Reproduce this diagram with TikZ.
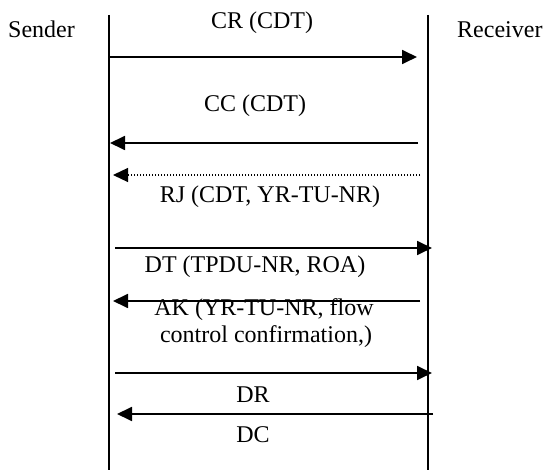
\documentclass[tikz,border=0pt]{standalone}
\usepackage{fontspec}
\setmainfont{Liberation Serif}
\usetikzlibrary{arrows.meta}
\begin{document}
\begin{tikzpicture}[x=1pt,y=-1pt,
  lifeline/.style={line width=1.8pt},
  msg/.style={line width=1.8pt,-{Triangle[length=15pt,width=14pt]}},
  dotmsg/.style={line width=1.2pt,dash pattern=on 1.2pt off 1.8pt,
    -{Triangle[length=15pt,width=14pt]}},
  lbl/.style={anchor=base,inner sep=0pt,font=\fontsize{24}{28}\selectfont}]
\useasboundingbox (0,0) rectangle (547,470);

% lifelines
\coordinate (s0) at (109,15);
\coordinate (s1) at (109,470);
\coordinate (r0) at (428,15);
\coordinate (r1) at (428,470);
\draw[lifeline] (s0) -- (s1);
\draw[lifeline] (r0) -- (r1);

\node[lbl,anchor=base west] (sender) at (8,38) {Sender};
\node[lbl,anchor=base west] (receiver) at (457,38) {Receiver};

% connection request
\coordinate (cr0) at (109,57);
\coordinate (cr1) at (417,57);
\draw[msg] (cr0) -- (cr1);
\node[lbl] (crl) at (262,29) {CR (CDT)};

% connection confirm
\coordinate (cc0) at (418,143);
\coordinate (cc1) at (110,143);
\draw[msg] (cc0) -- (cc1);
\node[lbl] (ccl) at (255,112) {CC (CDT)};

% reject
\coordinate (rj0) at (420,175);
\coordinate (rj1) at (113,175);
\draw[dotmsg] (rj0) -- (rj1);
\node[lbl] (rjl) at (270,203) {RJ (CDT, YR-TU-NR)};

% data
\coordinate (dt0) at (115,248);
\coordinate (dt1) at (432,248);
\draw[msg] (dt0) -- (dt1);
\node[lbl] (dtl) at (255,273) {DT (TPDU-NR, ROA)};

% acknowledgement
\coordinate (ak0) at (420,301);
\coordinate (ak1) at (113,301);
\draw[msg] (ak0) -- (ak1);
\node[lbl] (akl1) at (264,316) {AK (YR-TU-NR, flow};
\node[lbl] (akl2) at (266,343) {control confirmation,)};

% disconnect
\coordinate (d0) at (115,373);
\coordinate (d1) at (432,373);
\draw[msg] (d0) -- (d1);
\node[lbl] (drl) at (253,403) {DR};

\coordinate (dc0) at (433,414);
\coordinate (dc1) at (117,414);
\draw[msg] (dc0) -- (dc1);
\node[lbl] (dcl) at (253,443) {DC};
\end{tikzpicture}
\end{document}
